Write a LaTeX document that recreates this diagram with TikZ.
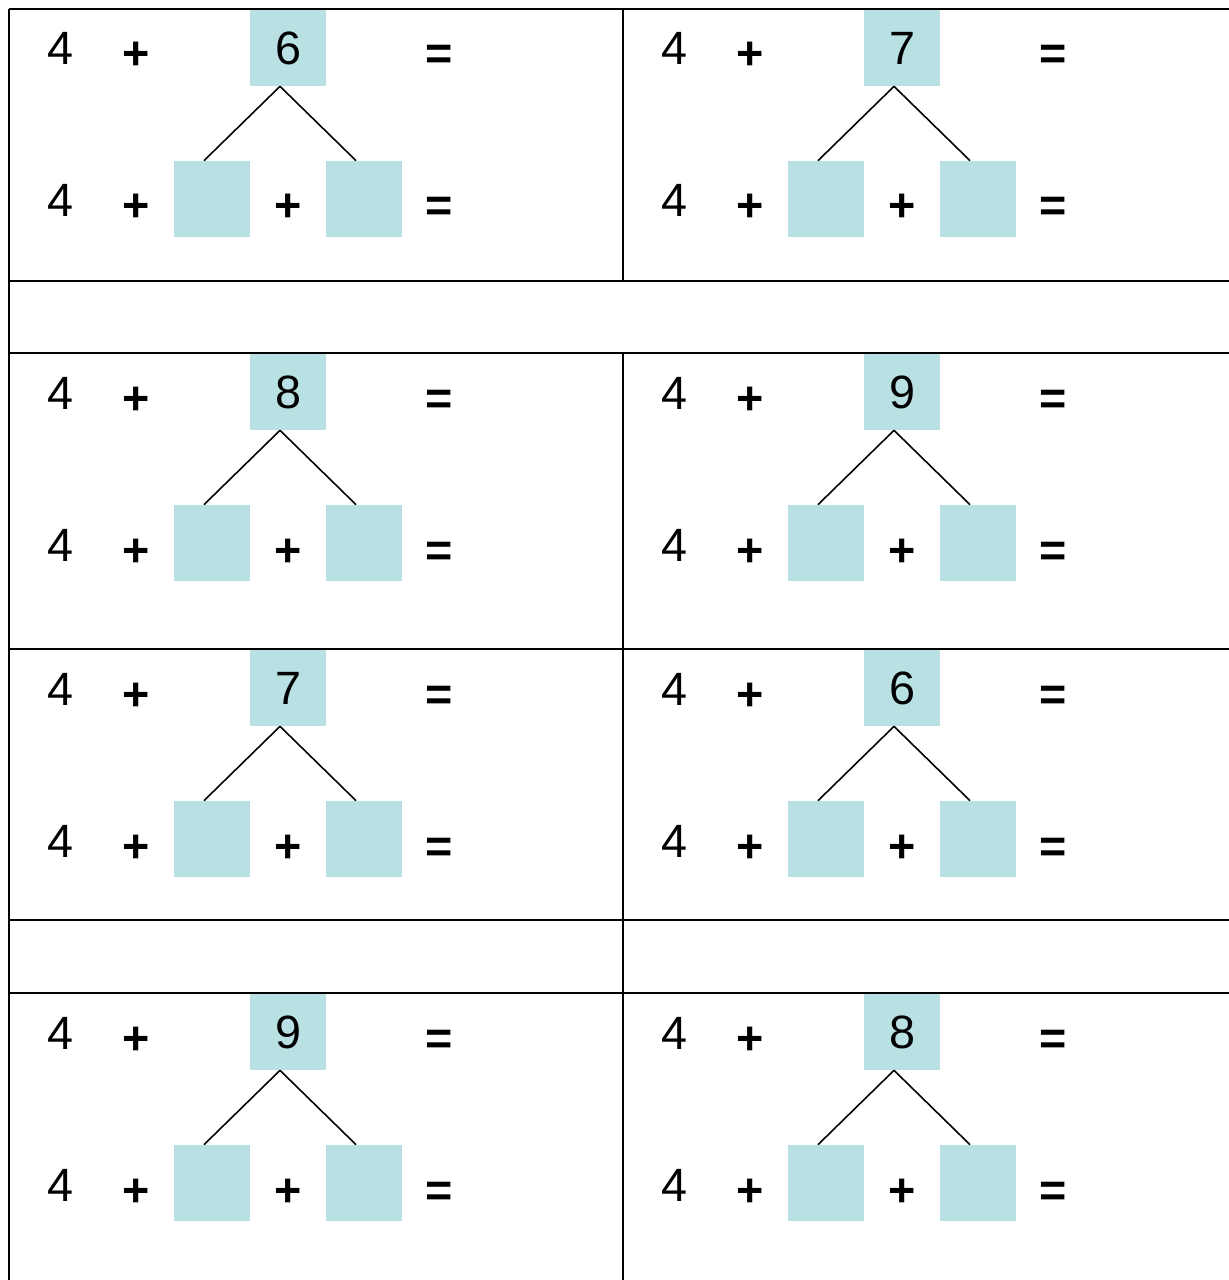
\documentclass[tikz,border=0pt]{standalone}
\usepackage{fontspec}
\setmainfont{Liberation Sans}
\usepackage{xcolor}
\usepackage{tikz}
\usetikzlibrary{positioning}
\definecolor{boxblue}{RGB}{185,224,227}

\begin{document}
\begin{tikzpicture}[
  x=0.02cm, y=-0.02cm,
  font=\fontsize{26.6}{32}\selectfont,
  grid/.style   = {line width=1.4pt},
  tree/.style   = {line width=0.9pt},
  sym/.style    = {anchor=base, inner sep=0pt},
  op/.style     = {sym, font=\fontsize{26.6}{32}\selectfont\bfseries, yshift=-0.1cm},
  bx/.style     = {fill=boxblue, minimum size=1.52cm, inner sep=0pt},
  wholebx/.style= {bx}
]
\useasboundingbox (0,0) rectangle (1229,1280);

%% ===== table lines =====
\draw[grid] (9,9) -- (1229,9);
\draw[grid] (9,281) -- (1229,281);
\draw[grid] (9,353) -- (1229,353);
\draw[grid] (9,649) -- (1229,649);
\draw[grid] (9,920) -- (1229,920);
\draw[grid] (9,993) -- (1229,993);
\draw[grid] (9,9) -- (9,1280);
\draw[grid] (623,9) -- (623,281);
\draw[grid] (623,353) -- (623,1280);

%% ===== cell 1: 4 + 6 =====
\node[sym] (four1a) at (60.5,65) {4};
\node[op] (plus1a) at (136,65) {+};
\node[wholebx] (whole1) at (288,48) {6};
\node[op] (eq1a) at (439,65) {=};
\node[sym] (four1b) at (60.5,217) {4};
\node[op] (plus1b) at (136,217) {+};
\node[bx] (lft1) at (212,199) {};
\node[op] (plus1c) at (288,217) {+};
\node[bx] (rgt1) at (364,199) {};
\node[op] (eq1b) at (439,217) {=};
\draw[tree] ([xshift=-0.16cm]whole1.south) -- ([xshift=-0.16cm]lft1.north);
\draw[tree] ([xshift=-0.16cm]whole1.south) -- ([xshift=-0.16cm]rgt1.north);

%% ===== cell 2: 4 + 7 =====
\node[sym] (four2a) at (674.5,65) {4};
\node[op] (plus2a) at (750,65) {+};
\node[wholebx] (whole2) at (902,48) {7};
\node[op] (eq2a) at (1053,65) {=};
\node[sym] (four2b) at (674.5,217) {4};
\node[op] (plus2b) at (750,217) {+};
\node[bx] (lft2) at (826,199) {};
\node[op] (plus2c) at (902,217) {+};
\node[bx] (rgt2) at (978,199) {};
\node[op] (eq2b) at (1053,217) {=};
\draw[tree] ([xshift=-0.16cm]whole2.south) -- ([xshift=-0.16cm]lft2.north);
\draw[tree] ([xshift=-0.16cm]whole2.south) -- ([xshift=-0.16cm]rgt2.north);

%% ===== cell 3: 4 + 8 =====
\node[sym] (four3a) at (60.5,409) {4};
\node[op] (plus3a) at (136,409) {+};
\node[wholebx] (whole3) at (288,392) {8};
\node[op] (eq3a) at (439,409) {=};
\node[sym] (four3b) at (60.5,561) {4};
\node[op] (plus3b) at (136,561) {+};
\node[bx] (lft3) at (212,543) {};
\node[op] (plus3c) at (288,561) {+};
\node[bx] (rgt3) at (364,543) {};
\node[op] (eq3b) at (439,561) {=};
\draw[tree] ([xshift=-0.16cm]whole3.south) -- ([xshift=-0.16cm]lft3.north);
\draw[tree] ([xshift=-0.16cm]whole3.south) -- ([xshift=-0.16cm]rgt3.north);

%% ===== cell 4: 4 + 9 =====
\node[sym] (four4a) at (674.5,409) {4};
\node[op] (plus4a) at (750,409) {+};
\node[wholebx] (whole4) at (902,392) {9};
\node[op] (eq4a) at (1053,409) {=};
\node[sym] (four4b) at (674.5,561) {4};
\node[op] (plus4b) at (750,561) {+};
\node[bx] (lft4) at (826,543) {};
\node[op] (plus4c) at (902,561) {+};
\node[bx] (rgt4) at (978,543) {};
\node[op] (eq4b) at (1053,561) {=};
\draw[tree] ([xshift=-0.16cm]whole4.south) -- ([xshift=-0.16cm]lft4.north);
\draw[tree] ([xshift=-0.16cm]whole4.south) -- ([xshift=-0.16cm]rgt4.north);

%% ===== cell 5: 4 + 7 =====
\node[sym] (four5a) at (60.5,705) {4};
\node[op] (plus5a) at (136,705) {+};
\node[wholebx] (whole5) at (288,688) {7};
\node[op] (eq5a) at (439,705) {=};
\node[sym] (four5b) at (60.5,857) {4};
\node[op] (plus5b) at (136,857) {+};
\node[bx] (lft5) at (212,839) {};
\node[op] (plus5c) at (288,857) {+};
\node[bx] (rgt5) at (364,839) {};
\node[op] (eq5b) at (439,857) {=};
\draw[tree] ([xshift=-0.16cm]whole5.south) -- ([xshift=-0.16cm]lft5.north);
\draw[tree] ([xshift=-0.16cm]whole5.south) -- ([xshift=-0.16cm]rgt5.north);

%% ===== cell 6: 4 + 6 =====
\node[sym] (four6a) at (674.5,705) {4};
\node[op] (plus6a) at (750,705) {+};
\node[wholebx] (whole6) at (902,688) {6};
\node[op] (eq6a) at (1053,705) {=};
\node[sym] (four6b) at (674.5,857) {4};
\node[op] (plus6b) at (750,857) {+};
\node[bx] (lft6) at (826,839) {};
\node[op] (plus6c) at (902,857) {+};
\node[bx] (rgt6) at (978,839) {};
\node[op] (eq6b) at (1053,857) {=};
\draw[tree] ([xshift=-0.16cm]whole6.south) -- ([xshift=-0.16cm]lft6.north);
\draw[tree] ([xshift=-0.16cm]whole6.south) -- ([xshift=-0.16cm]rgt6.north);

%% ===== cell 7: 4 + 9 =====
\node[sym] (four7a) at (60.5,1049) {4};
\node[op] (plus7a) at (136,1049) {+};
\node[wholebx] (whole7) at (288,1032) {9};
\node[op] (eq7a) at (439,1049) {=};
\node[sym] (four7b) at (60.5,1201) {4};
\node[op] (plus7b) at (136,1201) {+};
\node[bx] (lft7) at (212,1183) {};
\node[op] (plus7c) at (288,1201) {+};
\node[bx] (rgt7) at (364,1183) {};
\node[op] (eq7b) at (439,1201) {=};
\draw[tree] ([xshift=-0.16cm]whole7.south) -- ([xshift=-0.16cm]lft7.north);
\draw[tree] ([xshift=-0.16cm]whole7.south) -- ([xshift=-0.16cm]rgt7.north);

%% ===== cell 8: 4 + 8 =====
\node[sym] (four8a) at (674.5,1049) {4};
\node[op] (plus8a) at (750,1049) {+};
\node[wholebx] (whole8) at (902,1032) {8};
\node[op] (eq8a) at (1053,1049) {=};
\node[sym] (four8b) at (674.5,1201) {4};
\node[op] (plus8b) at (750,1201) {+};
\node[bx] (lft8) at (826,1183) {};
\node[op] (plus8c) at (902,1201) {+};
\node[bx] (rgt8) at (978,1183) {};
\node[op] (eq8b) at (1053,1201) {=};
\draw[tree] ([xshift=-0.16cm]whole8.south) -- ([xshift=-0.16cm]lft8.north);
\draw[tree] ([xshift=-0.16cm]whole8.south) -- ([xshift=-0.16cm]rgt8.north);

\end{tikzpicture}
\end{document}
